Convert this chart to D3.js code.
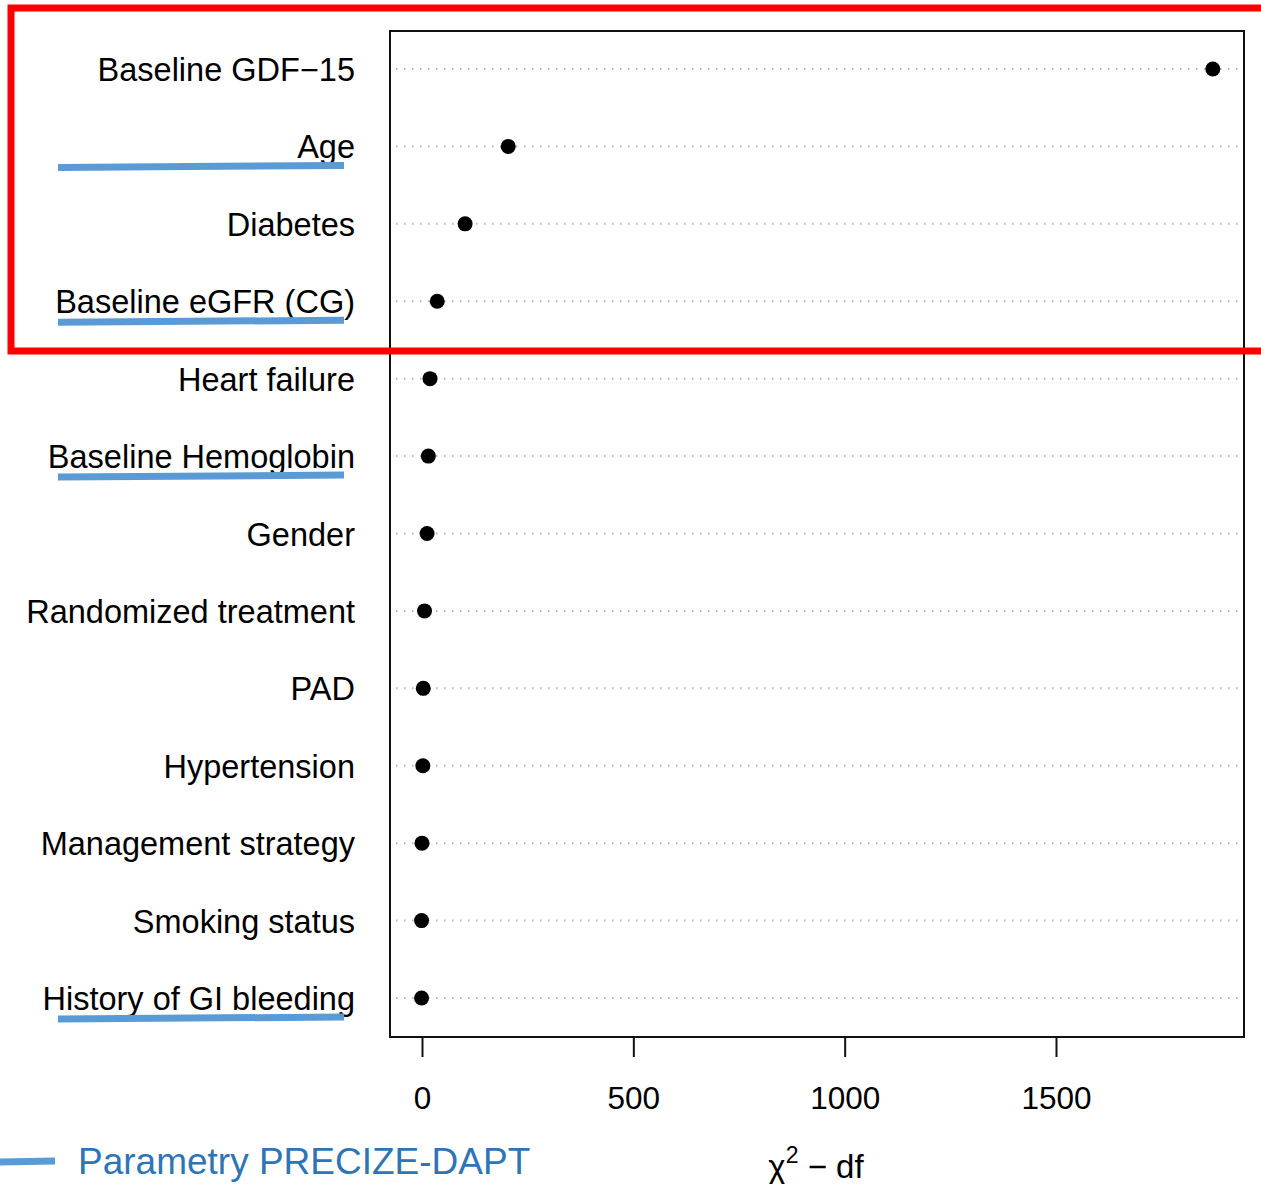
<!DOCTYPE html>
<html>
    <head>
        <meta charset="utf-8">
        <title>Chi-square minus df</title>
        <script type="text/javascript" src="https://d3js.org/d3.v7.min.js"></script>
        <style>
            body { margin: 0; background: #fff; }
            svg { display: block; font-family: "Liberation Sans", Arial, Helvetica, sans-serif; }
        </style>
    </head>

    <body>
        <svg></svg>
    </body>

    <script type="text/javascript">
        const WIDTH = 1261;
        const HEIGHT = 1184;

        // Predictors, top to bottom, and their chi2 - df
        var labels = ["Baseline GDF\u221215", "Age", "Diabetes", "Baseline eGFR (CG)", "Heart failure",
            "Baseline Hemoglobin", "Gender", "Randomized treatment", "PAD", "Hypertension",
            "Management strategy", "Smoking status", "History of GI bleeding"];
        var values = [1871, 204, 102, 36, 19, 15, 12, 6, 3, 2, 0, -1, -1];
        var ticks = [0, 500, 1000, 1500];
        // rows underlined in blue (PRECIZE-DAPT parameters)
        var underlined = ["Age", "Baseline eGFR (CG)", "Baseline Hemoglobin", "History of GI bleeding"];

        var box = { left: 390, right: 1244, top: 31, bottom: 1037 };

        var svg = d3.select("svg")
            .attr("width", WIDTH)
            .attr("height", HEIGHT);

        var x = d3.scaleLinear()
            .domain([0, 1500])
            .range([422, 1056]);

        var y = d3.scalePoint()
            .domain(labels)
            .range([69, 998]);

        // dotted guide lines
        svg.selectAll("line.guide")
            .data(labels)
            .enter()
            .append("line")
            .attr("class", "guide")
            .attr("x1", box.left + 6)
            .attr("x2", box.right - 4)
            .attr("y1", function(d) { return y(d); })
            .attr("y2", function(d) { return y(d); })
            .attr("stroke", "#b8b8b8")
            .attr("stroke-width", 2)
            .attr("stroke-dasharray", "1.5,6.5");

        // plot frame
        svg.append("rect")
            .attr("x", box.left)
            .attr("y", box.top)
            .attr("width", box.right - box.left)
            .attr("height", box.bottom - box.top)
            .attr("fill", "none")
            .attr("stroke", "#111")
            .attr("stroke-width", 2);

        // points
        svg.selectAll("circle")
            .data(values)
            .enter()
            .append("circle")
            .attr("cx", function(d) { return x(d); })
            .attr("cy", function(d, i) { return y(labels[i]); })
            .attr("r", 7.5)
            .attr("fill", "#000");

        // row labels
        svg.selectAll("text.lab")
            .data(labels)
            .enter()
            .append("text")
            .attr("class", "lab")
            .attr("x", 355)
            .attr("y", function(d) { return y(d) + 12; })
            .attr("text-anchor", "end")
            .attr("font-size", "32.5px")
            .attr("fill", "#000")
            .text(function(d) { return d; });

        // x axis
        var axis = svg.append("g")
            .attr("transform", "translate(0," + box.bottom + ")")
            .call(d3.axisBottom(x).tickValues(ticks).tickFormat(d3.format("d")).tickSize(20).tickPadding(30));
        axis.select(".domain").remove();
        axis.selectAll(".tick line").attr("stroke", "#111").attr("stroke-width", 2);
        axis.selectAll(".tick text")
            .attr("font-size", "31.5px")
            .attr("font-family", "Liberation Sans, Arial, sans-serif")
            .attr("fill", "#000");

        var title = svg.append("text")
            .attr("x", 816)
            .attr("y", 1178)
            .attr("text-anchor", "middle")
            .attr("font-size", "33px")
            .attr("fill", "#000");
        title.append("tspan").text("\u03c7");
        title.append("tspan").attr("dy", -15).attr("font-size", "23px").text("2");
        title.append("tspan").attr("dy", 15).text(" \u2212 df");

        // blue underlines
        svg.selectAll("line.under")
            .data(underlined)
            .enter()
            .append("line")
            .attr("class", "under")
            .attr("x1", 58)
            .attr("x2", 344)
            .attr("y1", function(d) { return y(d) + 21; })
            .attr("y2", function(d) { return y(d) + 19; })
            .attr("stroke", "#5b9bd5")
            .attr("stroke-width", 7);

        // red highlight box
        svg.append("rect")
            .attr("x", 11)
            .attr("y", 8)
            .attr("width", 1270)
            .attr("height", 343)
            .attr("fill", "none")
            .attr("stroke", "#ff0000")
            .attr("stroke-width", 7);

        // legend
        svg.append("line")
            .attr("x1", 0)
            .attr("x2", 55)
            .attr("y1", 1162)
            .attr("y2", 1161)
            .attr("stroke", "#5b9bd5")
            .attr("stroke-width", 7);
        svg.append("text")
            .attr("x", 78)
            .attr("y", 1174)
            .attr("font-size", "37px")
            .attr("fill", "#2e75b6")
            .text("Parametry PRECIZE-DAPT");
    </script>
</html>
